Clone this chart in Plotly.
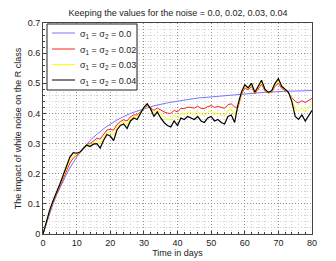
import plotly.graph_objects as go

days = list(range(0, 81))

sigma_0 = [0, 0.036, 0.07, 0.10, 0.128, 0.153, 0.177, 0.199, 0.219, 0.238,
           0.255, 0.271, 0.285, 0.298, 0.310, 0.321, 0.331, 0.341, 0.349, 0.357,
           0.365, 0.372, 0.378, 0.384, 0.390, 0.395, 0.400, 0.404, 0.408, 0.412,
           0.416, 0.419, 0.422, 0.425, 0.428, 0.431, 0.433, 0.435, 0.437, 0.439,
           0.441, 0.443, 0.445, 0.446, 0.448, 0.449, 0.451, 0.452, 0.453, 0.454,
           0.456, 0.457, 0.458, 0.459, 0.460, 0.461, 0.462, 0.463, 0.464, 0.465,
           0.466, 0.467, 0.467, 0.468, 0.469, 0.469, 0.470, 0.471, 0.471, 0.472,
           0.472, 0.473, 0.473, 0.474, 0.474, 0.474, 0.475, 0.475, 0.475, 0.476,
           0.476]

sigma_002 = [0, 0.038, 0.075, 0.105, 0.131, 0.158, 0.185, 0.21, 0.235, 0.252,
             0.26, 0.27, 0.284, 0.297, 0.30, 0.31, 0.317, 0.315, 0.33, 0.345,
             0.347, 0.345, 0.363, 0.373, 0.379, 0.375, 0.389, 0.395, 0.395, 0.406,
             0.418, 0.426, 0.419, 0.41, 0.418, 0.41, 0.405, 0.401, 0.40, 0.41,
             0.405, 0.417, 0.416, 0.421, 0.42, 0.418, 0.424, 0.417, 0.416, 0.423,
             0.426, 0.42, 0.423, 0.419, 0.417, 0.429, 0.432, 0.421, 0.42, 0.462,
             0.485, 0.478, 0.49, 0.465, 0.482, 0.497, 0.475, 0.468, 0.47, 0.49,
             0.50, 0.483, 0.476, 0.468, 0.452, 0.44, 0.435, 0.442, 0.436, 0.444,
             0.45]

sigma_003 = [0, 0.039, 0.078, 0.108, 0.133, 0.162, 0.19, 0.218, 0.245, 0.262,
             0.265, 0.271, 0.283, 0.296, 0.295, 0.303, 0.308, 0.30, 0.32, 0.337,
             0.336, 0.327, 0.354, 0.367, 0.372, 0.362, 0.382, 0.39, 0.388, 0.403,
             0.419, 0.43, 0.417, 0.40, 0.411, 0.398, 0.388, 0.381, 0.378, 0.393,
             0.383, 0.401, 0.398, 0.406, 0.403, 0.399, 0.407, 0.396, 0.393, 0.404,
             0.408, 0.398, 0.402, 0.394, 0.391, 0.41, 0.414, 0.396, 0.425, 0.466,
             0.49, 0.482, 0.495, 0.468, 0.486, 0.504, 0.478, 0.469, 0.472, 0.495,
             0.508, 0.487, 0.478, 0.469, 0.446, 0.415, 0.408, 0.418, 0.405, 0.42,
             0.43]

sigma_004 = [0, 0.04, 0.08, 0.11, 0.135, 0.165, 0.195, 0.225, 0.255, 0.27,
             0.268, 0.272, 0.283, 0.295, 0.29, 0.298, 0.30, 0.285, 0.31, 0.33,
             0.325, 0.31, 0.345, 0.36, 0.365, 0.35, 0.375, 0.385, 0.38, 0.40,
             0.42, 0.432, 0.415, 0.39, 0.405, 0.385, 0.37, 0.36, 0.355, 0.375,
             0.36, 0.385, 0.38, 0.39, 0.385, 0.38, 0.39, 0.375, 0.37, 0.385,
             0.39, 0.375, 0.38, 0.37, 0.365, 0.39, 0.395, 0.37, 0.43, 0.47,
             0.495, 0.485, 0.50, 0.47, 0.49, 0.51, 0.48, 0.47, 0.475, 0.50,
             0.515, 0.49, 0.48, 0.47, 0.44, 0.39, 0.38, 0.395, 0.375, 0.395,
             0.41]

names = ["σ<sub>1</sub> = σ<sub>2</sub> = 0.0",
         "σ<sub>1</sub> = σ<sub>2</sub> = 0.02",
         "σ<sub>1</sub> = σ<sub>2</sub> = 0.03",
         "σ<sub>1</sub> = σ<sub>2</sub> = 0.04"]
series = [sigma_0, sigma_002, sigma_003, sigma_004]
colors = ["#7878ff", "#ff2020", "#ffff00", "#000000"]
widths = [1, 1, 1, 1.2]

x_ticks = [0, 10, 20, 30, 40, 50, 60, 70, 80]
y_ticks = [0, 0.1, 0.2, 0.3, 0.4, 0.5, 0.6, 0.7]
y_tick_labels = ["0", "0.1", "0.2", "0.3", "0.4", "0.5", "0.6", "0.7"]

fig = go.Figure()
for name, vals, c, w in zip(names, series, colors, widths):
    fig.add_trace(go.Scatter(x=days, y=vals, mode="lines", name=name,
                             line=dict(color=c, width=w), showlegend=False))

FAM = "Liberation Sans, Arial, sans-serif"
font = dict(family=FAM, size=9, color="#222")
axis_common = dict(
    showline=True, linecolor="#444", linewidth=1, mirror=True,
    ticks="inside", ticklen=3, tickcolor="#444",
    showgrid=True, gridcolor="#909090", griddash="1px,2px", gridwidth=1,
    zeroline=False, tickfont=font, automargin=False,
)
fig.update_xaxes(range=[0, 80], tickvals=x_ticks,
                 title=dict(text="Time in days", font=font, standoff=1),
                 minor=dict(dtick=2, showgrid=True, gridcolor="#d0d0d0",
                            griddash="1px,2px", ticks="inside", ticklen=2, tickcolor="#444"),
                 **axis_common)
fig.update_yaxes(range=[0, 0.7], tickvals=y_ticks, ticktext=y_tick_labels,
                 title=dict(text="The impact of white noise on the R class", font=font, standoff=4),
                 minor=dict(dtick=0.02, showgrid=True, gridcolor="#d0d0d0",
                            griddash="1px,2px", ticks="inside", ticklen=2, tickcolor="#444"),
                 **axis_common)

# Manual legend box (paper coordinates)
def px_x(px):
    return (px - 43) / 269.0

def px_y(py):
    return (234 - py) / 211.0

shapes = [dict(type="rect", xref="paper", yref="paper",
               x0=px_x(47), x1=px_x(137), y0=px_y(90), y1=px_y(24),
               line=dict(color="#222", width=1), fillcolor="white", layer="above")]
annotations = []
row_y = [33, 49, 64.5, 80]
for name, c, ry in zip(names, colors, row_y):
    shapes.append(dict(type="line", xref="paper", yref="paper",
                       x0=px_x(52), x1=px_x(75), y0=px_y(ry), y1=px_y(ry),
                       line=dict(color=c, width=1), layer="above"))
    annotations.append(dict(xref="paper", yref="paper", x=px_x(78), y=px_y(ry + 1),
                            text=name, showarrow=False, xanchor="left", yanchor="middle",
                            font=font))

fig.update_layout(
    width=336, height=261,
    margin=dict(l=43, r=24, t=23, b=27, autoexpand=False),
    paper_bgcolor="white", plot_bgcolor="white",
    font=font,
    title=dict(text="Keeping the values for the noise = 0.0, 0.02, 0.03, 0.04",
               x=0.53, xanchor="center", y=1 - 13 / 261, yanchor="middle", font=font),
    showlegend=False,
    shapes=shapes,
    annotations=annotations,
)

fig.write_html("out.html", config={"displayModeBar": False},
               post_script="document.body.style.margin='0';")
